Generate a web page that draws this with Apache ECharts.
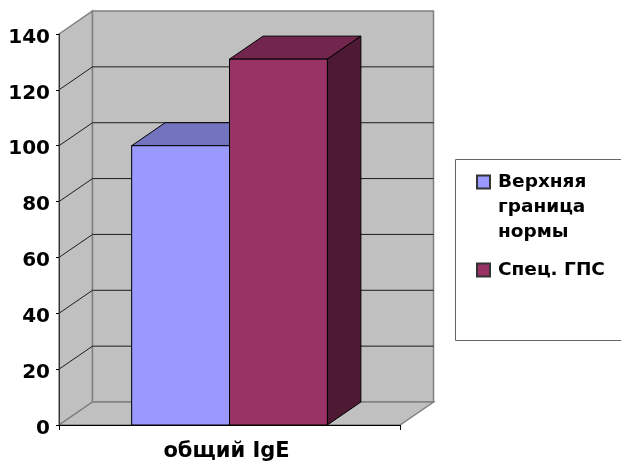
<!DOCTYPE html>
<html>
<head>
<meta charset="utf-8">
<style>html,body{margin:0;padding:0;background:#fff}#chart{width:621px;height:462px}</style>
<script src="https://cdn.jsdelivr.net/npm/echarts@6/dist/echarts.min.js"></script>
</head>
<body>
<div id="chart"></div>
<script>
const categories = ['общий IgE'];
const seriesNames = ['Верхняя граница нормы', 'Спец. ГПС'];
const upperNormValues = [100];
const specGpsValues = [131];
const yTicks = [0, 20, 40, 60, 80, 100, 120, 140];

const FONT = '"DejaVu Sans"';
const DEPTH_X = 33.5, DEPTH_Y = -23;
const WALL = '#c0c0c0', EDGE_GRAY = '#808080', GRID_DARK = '#1c1c1c';
const BAR_SHARE = 0.287;

const poly = (points, fill, stroke, lineWidth) => ({
  type: 'polygon',
  shape: { points },
  style: { fill, stroke, lineWidth: lineWidth || 1 }
});
const seg = (a, b, stroke) => ({
  type: 'line',
  shape: { x1: a[0], y1: a[1], x2: b[0], y2: b[1] },
  style: { stroke, lineWidth: 1 }
});
const back = p => [p[0] + DEPTH_X, p[1] + DEPTH_Y];

// Side wall, back wall and floor of the 3D box
function renderWalls(params, api) {
  const band = api.size([1, 0])[0];
  const mid = api.coord([0, 0])[0];
  const x0 = mid - band / 2, x1 = mid + band / 2;
  const yb = api.coord([0, yTicks[0]])[1];
  const yt = api.coord([0, yTicks[yTicks.length - 1]])[1];
  return {
    type: 'group',
    children: [
      poly([[x0, yt], back([x0, yt]), back([x0, yb]), [x0, yb]], WALL, EDGE_GRAY, 1.5),
      poly([back([x0, yt]), back([x1, yt]), back([x1, yb]), back([x0, yb])], WALL, EDGE_GRAY, 1.5),
      poly([[x0, yb], back([x0, yb]), back([x1, yb]), [x1, yb]], WALL, EDGE_GRAY, 1.5)
    ]
  };
}

// Gridline bent around the side wall onto the back wall
function renderGridline(params, api) {
  const band = api.size([1, 0])[0];
  const mid = api.coord([0, 0])[0];
  const y = api.coord([0, api.value(0)])[1];
  const p0 = [mid - band / 2, y], p1 = [mid + band / 2, y];
  return {
    type: 'group',
    children: [seg(p0, back(p0), GRID_DARK), seg(back(p0), back(p1), GRID_DARK)]
  };
}

// One cuboid column with front, top and right faces
function renderColumn(slot, front, top, side) {
  return function (params, api) {
    const band = api.size([1, 0])[0];
    const w = band * BAR_SHARE;
    const base = api.coord([api.value(0), 0]);
    const peak = api.coord([api.value(0), api.value(1)]);
    const l = base[0] + (slot - 1) * w, r = l + w;
    const a = [l, peak[1]], b = [r, peak[1]], c = [r, base[1]], d = [l, base[1]];
    return {
      type: 'group',
      children: [
        poly([a, back(a), back(b), b], top, '#000'),
        poly([b, back(b), back(c), c], side, '#000'),
        poly([a, b, c, d], front, '#000')
      ]
    };
  };
}

const option = {
  animation: false,
  backgroundColor: '#fff',
  grid: { left: 59, right: 221, top: 34, bottom: 37 },
  // Frame around the legend; it runs off the right edge of the page
  graphic: [{
    type: 'rect',
    z: 0,
    shape: { x: 455.5, y: 159.5, width: 180, height: 181 },
    style: { fill: '#fff', stroke: '#666', lineWidth: 1 }
  }],
  xAxis: {
    type: 'category',
    data: categories,
    z: 6,
    axisLine: { lineStyle: { color: '#000', width: 1 } },
    axisTick: { show: true, length: 5, lineStyle: { color: '#000' } },
    axisLabel: {
      fontFamily: FONT, fontWeight: 'bold', fontSize: 21, color: '#000',
      margin: 16, padding: [0, 6, 0, 0]
    }
  },
  yAxis: {
    type: 'value',
    min: 0,
    max: 140,
    interval: 20,
    z: 6,
    axisLine: { show: true, lineStyle: { color: '#333', width: 1 } },
    axisTick: { show: true, length: 3, lineStyle: { color: '#000' } },
    axisLabel: {
      fontFamily: FONT, fontWeight: 'bold', fontSize: 20, color: '#000',
      margin: 9, verticalAlign: 'top', lineHeight: 7
    },
    splitLine: { show: false }
  },
  legend: {
    left: 476,
    top: 119.5,
    orient: 'vertical',
    data: seriesNames,
    icon: 'rect',
    itemWidth: 13,
    itemHeight: 13,
    itemGap: 13,
    padding: 0,
    selectedMode: false,
    // Two leading blank lines keep the swatch level with the first line of a wrapped name
    formatter: name => name.split(' ').length > 2 ? '\n\n' + name.replace(/ /g, '\n') : name,
    textStyle: {
      fontFamily: FONT, fontWeight: 'bold', fontSize: 18.5, lineHeight: 25, color: '#000',
      padding: [0, 0, 0, 3]
    }
  },
  series: [
    { type: 'custom', name: 'walls', silent: true, z: 1, renderItem: renderWalls, data: [[0]] },
    {
      type: 'custom', name: 'grid', silent: true, z: 2, renderItem: renderGridline,
      data: yTicks.slice(1, -1).map(v => [v])
    },
    {
      type: 'custom', name: seriesNames[0], z: 3,
      itemStyle: { color: '#9999ff', borderColor: '#333', borderWidth: 1 },
      renderItem: renderColumn(0, '#9999ff', '#7373bf', '#4d4d80'),
      encode: { x: 0, y: 1 },
      data: upperNormValues.map((v, i) => [i, v])
    },
    {
      type: 'custom', name: seriesNames[1], z: 4,
      itemStyle: { color: '#993366', borderColor: '#333', borderWidth: 1 },
      renderItem: renderColumn(1, '#993366', '#73264d', '#4d1933'),
      encode: { x: 0, y: 1 },
      data: specGpsValues.map((v, i) => [i, v])
    }
  ]
};

echarts.init(document.getElementById('chart'), null, { renderer: 'canvas' }).setOption(option);
</script>
</body>
</html>
